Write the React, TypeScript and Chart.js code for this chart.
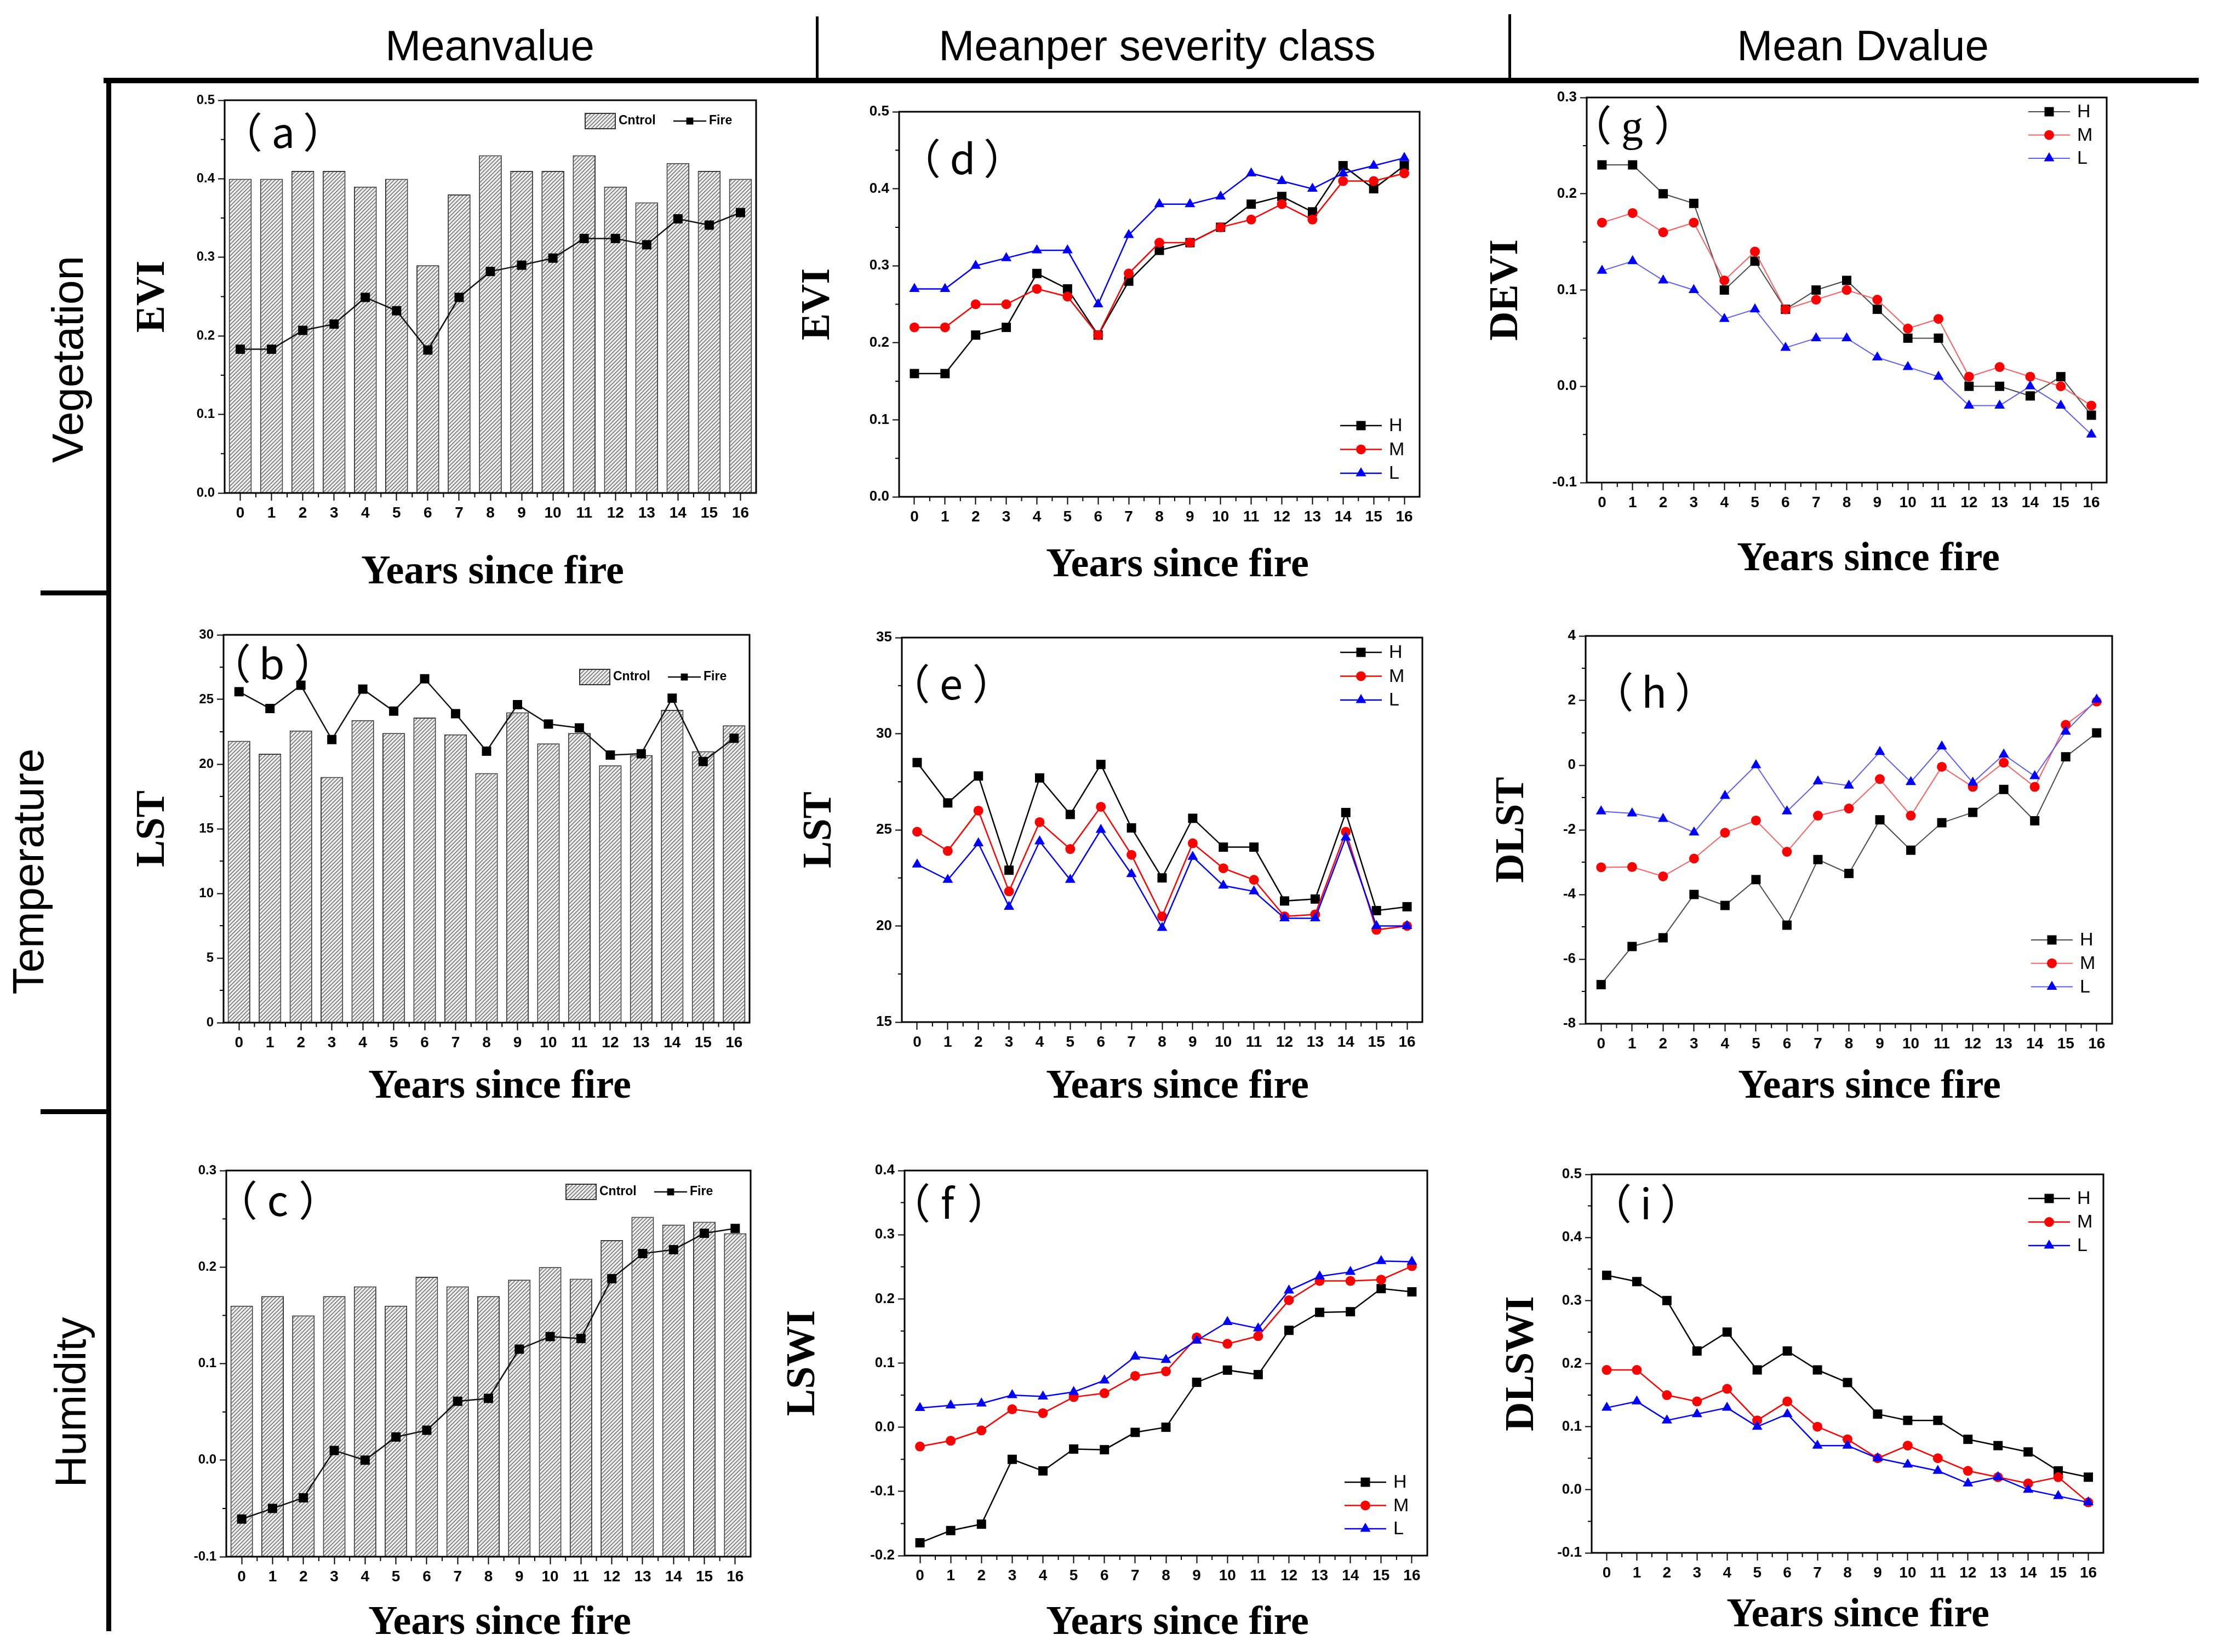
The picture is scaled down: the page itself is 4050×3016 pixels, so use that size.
import React, { useEffect, useRef } from "react";
import { Chart, registerables } from "chart.js";

Chart.register(...registerables);

// ---------------- data ----------------
const years = ["0", "1", "2", "3", "4", "5", "6", "7", "8", "9", "10", "11", "12", "13", "14", "15", "16"];

const eviControl = [0.40, 0.40, 0.41, 0.41, 0.39, 0.40, 0.29, 0.38, 0.43, 0.41, 0.41, 0.43, 0.39, 0.37, 0.42, 0.41, 0.40];
const eviFire = [0.183, 0.183, 0.207, 0.215, 0.249, 0.232, 0.182, 0.249, 0.282, 0.290, 0.299, 0.324, 0.324, 0.316, 0.349, 0.341, 0.357];
const lstControl = [21.8, 20.8, 22.6, 19.0, 23.4, 22.4, 23.6, 22.3, 19.3, 24.0, 21.6, 22.4, 19.9, 20.7, 24.2, 21.0, 23.0];
const lstFire = [25.6, 24.3, 26.1, 21.9, 25.8, 24.1, 26.6, 23.9, 21.0, 24.6, 23.1, 22.8, 20.7, 20.8, 25.1, 20.2, 22.0];
const lswiControl = [0.16, 0.17, 0.15, 0.17, 0.18, 0.16, 0.19, 0.18, 0.17, 0.187, 0.20, 0.188, 0.228, 0.252, 0.244, 0.247, 0.235];
const lswiFire = [-0.061, -0.050, -0.039, 0.010, 0.000, 0.024, 0.031, 0.061, 0.064, 0.115, 0.128, 0.126, 0.188, 0.214, 0.218, 0.235, 0.240];

const eviH = [0.16, 0.16, 0.21, 0.22, 0.29, 0.27, 0.21, 0.28, 0.32, 0.33, 0.35, 0.38, 0.39, 0.37, 0.43, 0.40, 0.43];
const eviM = [0.22, 0.22, 0.25, 0.25, 0.27, 0.26, 0.21, 0.29, 0.33, 0.33, 0.35, 0.36, 0.38, 0.36, 0.41, 0.41, 0.42];
const eviL = [0.27, 0.27, 0.30, 0.31, 0.32, 0.32, 0.25, 0.34, 0.38, 0.38, 0.39, 0.42, 0.41, 0.40, 0.42, 0.43, 0.44];

const lstH = [28.5, 26.4, 27.8, 22.9, 27.7, 25.8, 28.4, 25.1, 22.5, 25.6, 24.1, 24.1, 21.3, 21.4, 25.9, 20.8, 21.0];
const lstM = [24.9, 23.9, 26.0, 21.8, 25.4, 24.0, 26.2, 23.7, 20.5, 24.3, 23.0, 22.4, 20.5, 20.6, 24.9, 19.8, 20.0];
const lstL = [23.2, 22.4, 24.3, 21.0, 24.4, 22.4, 25.0, 22.7, 19.9, 23.6, 22.1, 21.8, 20.4, 20.4, 24.6, 20.0, 20.0];

const lswiH = [-0.180, -0.161, -0.151, -0.050, -0.068, -0.034, -0.035, -0.008, 0.000, 0.070, 0.089, 0.082, 0.151, 0.179, 0.180, 0.216, 0.211];
const lswiM = [-0.030, -0.021, -0.005, 0.028, 0.022, 0.047, 0.053, 0.080, 0.087, 0.140, 0.130, 0.142, 0.198, 0.228, 0.228, 0.230, 0.251];
const lswiL = [0.030, 0.034, 0.037, 0.050, 0.048, 0.055, 0.073, 0.110, 0.105, 0.135, 0.164, 0.154, 0.213, 0.235, 0.242, 0.259, 0.258];

const deviH = [0.23, 0.23, 0.20, 0.19, 0.10, 0.13, 0.08, 0.10, 0.11, 0.08, 0.05, 0.05, 0.00, 0.00, -0.01, 0.01, -0.03];
const deviM = [0.17, 0.18, 0.16, 0.17, 0.11, 0.14, 0.08, 0.09, 0.10, 0.09, 0.06, 0.07, 0.01, 0.02, 0.01, 0.00, -0.02];
const deviL = [0.12, 0.13, 0.11, 0.10, 0.07, 0.08, 0.04, 0.05, 0.05, 0.03, 0.02, 0.01, -0.02, -0.02, 0.00, -0.02, -0.05];

const dlstH = [-6.79, -5.61, -5.34, -4.00, -4.34, -3.54, -4.95, -2.92, -3.35, -1.69, -2.63, -1.78, -1.46, -0.75, -1.72, 0.26, 1.00];
const dlstM = [-3.16, -3.15, -3.44, -2.89, -2.09, -1.71, -2.68, -1.56, -1.34, -0.43, -1.56, -0.05, -0.67, 0.08, -0.67, 1.25, 1.97];
const dlstL = [-1.43, -1.49, -1.66, -2.08, -0.95, 0.00, -1.43, -0.50, -0.63, 0.41, -0.52, 0.58, -0.54, 0.33, -0.34, 1.04, 2.03];

const dlswiH = [0.34, 0.33, 0.30, 0.22, 0.25, 0.19, 0.22, 0.19, 0.17, 0.12, 0.11, 0.11, 0.08, 0.07, 0.06, 0.03, 0.02];
const dlswiM = [0.19, 0.19, 0.15, 0.14, 0.16, 0.11, 0.14, 0.10, 0.08, 0.05, 0.07, 0.05, 0.03, 0.02, 0.01, 0.02, -0.02];
const dlswiL = [0.13, 0.14, 0.11, 0.12, 0.13, 0.10, 0.12, 0.07, 0.07, 0.05, 0.04, 0.03, 0.01, 0.02, 0.00, -0.01, -0.02];

const columnHeaders = ["Meanvalue", "Meanper severity class", "Mean Dvalue"];
const rowHeaders = ["Vegetation", "Temperature", "Humidity"];
const xAxisTitle = "Years since fire";
const controlLabel = "Cntrol";
const fireLabel = "Fire";
const severityLabels = ["H", "M", "L"];

// ---------------- styles / layout ----------------
const SANS = '"Liberation Sans", Arial, sans-serif';
const SERIF = '"Liberation Serif", "Times New Roman", serif';
const CJK = '"Noto Sans CJK SC", "Noto Sans", sans-serif';
const TITLE_SIZE = 74;

type PanelDef = {
  kind: "bar" | "line";
  letter: string;
  letterSerif?: boolean;
  L: number; T: number; R: number; B: number;
  yTitle: string | null;
  yTitleX: number;
  xTitleX: number;
  xTitleY: number;
  yMin: number; yMax: number; yStep: number; dec: number;
  series: number[][];
  letterX: number; letterY: number;
  legendX: number; legendY: number; legendGap: number;
  light?: boolean;
  yTickSize: number;
};

const PANELS: PanelDef[] = [
  { kind: "bar", letter: "a", L: 410, T: 183, R: 1380, B: 900, yTitle: "EVI", yTitleX: 280, xTitleX: 899, xTitleY: 1046,
    yMin: 0, yMax: 0.5, yStep: 0.1, dec: 1, series: [eviControl, eviFire], letterX: 517, letterY: 270,
    legendX: 1068, legendY: 221, legendGap: 0, yTickSize: 24 },
  { kind: "bar", letter: "b", L: 408, T: 1159, R: 1368, B: 1867, yTitle: "LST", yTitleX: 280, xTitleX: 912, xTitleY: 1985,
    yMin: 0, yMax: 30, yStep: 5, dec: 0, series: [lstControl, lstFire], letterX: 496, letterY: 1240,
    legendX: 1058, legendY: 1236, legendGap: 0, yTickSize: 24 },
  { kind: "bar", letter: "c", L: 413, T: 2137, R: 1370, B: 2842, yTitle: null, yTitleX: 0, xTitleX: 912, xTitleY: 2964,
    yMin: -0.1, yMax: 0.3, yStep: 0.1, dec: 1, series: [lswiControl, lswiFire], letterX: 507, letterY: 2220,
    legendX: 1033, legendY: 2176, legendGap: 0, yTickSize: 24 },
  { kind: "line", letter: "d", L: 1641, T: 204, R: 2591, B: 907, yTitle: "EVI", yTitleX: 1494, xTitleX: 2149, xTitleY: 1033,
    yMin: 0, yMax: 0.5, yStep: 0.1, dec: 1, series: [eviH, eviM, eviL], letterX: 1757, letterY: 318,
    legendX: 2446, legendY: 777, legendGap: 43.5, yTickSize: 26 },
  { kind: "line", letter: "e", L: 1646, T: 1164, R: 2596, B: 1866, yTitle: "LST", yTitleX: 1497, xTitleX: 2149, xTitleY: 1985,
    yMin: 15, yMax: 35, yStep: 5, dec: 0, series: [lstH, lstM, lstL], letterX: 1736, letterY: 1277,
    legendX: 2446, legendY: 1191, legendGap: 43.5, yTickSize: 26 },
  { kind: "line", letter: "f", L: 1651, T: 2137, R: 2605, B: 2840, yTitle: "LSWI", yTitleX: 1467, xTitleX: 2149, xTitleY: 2964,
    yMin: -0.2, yMax: 0.4, yStep: 0.1, dec: 1, series: [lswiH, lswiM, lswiL], letterX: 1729, letterY: 2225,
    legendX: 2454, legendY: 2706, legendGap: 42.5, yTickSize: 26 },
  { kind: "line", letter: "g", letterSerif: true, L: 2896, T: 178, R: 3845, B: 881, yTitle: "DEVI", yTitleX: 2750, xTitleX: 3410, xTitleY: 1022,
    yMin: -0.1, yMax: 0.3, yStep: 0.1, dec: 1, series: [deviH, deviM, deviL], letterX: 2979, letterY: 257,
    legendX: 3702, legendY: 204, legendGap: 42.5, light: true, yTickSize: 26 },
  { kind: "line", letter: "h", L: 2894, T: 1161, R: 3855, B: 1869, yTitle: "DLST", yTitleX: 2761, xTitleX: 3412, xTitleY: 1985,
    yMin: -8, yMax: 4, yStep: 2, dec: 0, series: [dlstH, dlstM, dlstL], letterX: 3019, letterY: 1292,
    legendX: 3707, legendY: 1716, legendGap: 42.7, light: true, yTickSize: 26 },
  { kind: "line", letter: "i", L: 2905, T: 2144, R: 3839, B: 2835, yTitle: "DLSWI", yTitleX: 2779, xTitleX: 3391, xTitleY: 2950,
    yMin: -0.1, yMax: 0.5, yStep: 0.1, dec: 1, series: [dlswiH, dlswiM, dlswiL], letterX: 3004, letterY: 2226,
    legendX: 3702, legendY: 2188, legendGap: 43, yTickSize: 26 },
];

function geom(p: PanelDef) {
  const cl = p.yTitle ? Math.round(p.yTitleX - TITLE_SIZE / 2 - 6) : p.L - 110;
  const ct = p.T - 30;
  const cr = p.R + 30;
  const cb = Math.round(p.xTitleY + TITLE_SIZE / 2 + 6);
  return { cl, ct, w: cr - cl, h: cb - ct, yAxisW: p.L - cl, xAxisH: cb - p.B };
}

function makeHatch(ctx: CanvasRenderingContext2D): CanvasPattern {
  const c = document.createElement("canvas");
  c.width = 7;
  c.height = 7;
  const g = c.getContext("2d")!;
  g.fillStyle = "#ededed";
  g.fillRect(0, 0, 7, 7);
  g.strokeStyle = "#666";
  g.lineWidth = 1.4;
  g.beginPath();
  g.moveTo(-1, 8); g.lineTo(8, -1);
  g.moveTo(-1, 1); g.lineTo(1, -1);
  g.moveTo(6, 8); g.lineTo(8, 6);
  g.stroke();
  return ctx.createPattern(c, "repeat")!;
}

function drawMarker(c: CanvasRenderingContext2D, style: string, x: number, y: number, r: number, color: string) {
  c.fillStyle = color;
  c.beginPath();
  if (style === "rect") {
    const s = Math.SQRT1_2 * r;
    c.rect(x - s, y - s, 2 * s, 2 * s);
  } else if (style === "circle") {
    c.arc(x, y, r, 0, Math.PI * 2);
  } else {
    c.moveTo(x, y - r);
    c.lineTo(x + Math.sin((2 * Math.PI) / 3) * r, y + r / 2);
    c.lineTo(x - Math.sin((2 * Math.PI) / 3) * r, y + r / 2);
    c.closePath();
  }
  c.fill();
}

const SEV_STYLE = [
  { point: "rect", color: "#000000", radius: 12 },
  { point: "circle", color: "#ff0000", radius: 9 },
  { point: "triangle", color: "#0000ff", radius: 11 },
];
const LIGHT_LINES = ["#4a4a4a", "#ff5c5c", "#5c5cff"];

function PanelChart({ p }: { p: PanelDef }) {
  const ref = useRef<HTMLCanvasElement | null>(null);
  const g = geom(p);

  useEffect(() => {
    const canvas = ref.current!;
    const ctx = canvas.getContext("2d")!;
    const hatch = makeHatch(ctx);

    let datasets: any[];
    if (p.kind === "bar") {
      datasets = [
        {
          type: "bar", label: controlLabel, data: p.series[0], backgroundColor: hatch, base: p.yMin,
          borderColor: "#3c3c3c", borderWidth: 2, barPercentage: 0.73, categoryPercentage: 1, order: 1,
        },
        {
          type: "line", label: fireLabel, data: p.series[1], borderColor: "#111", borderWidth: 2.5,
          pointStyle: "rect", pointRadius: 12, pointBackgroundColor: "#000", pointBorderColor: "#000",
          pointBorderWidth: 0, order: 0,
        },
      ];
    } else {
      datasets = p.series.map((s, i) => ({
        type: "line", label: severityLabels[i], data: s,
        borderColor: p.light ? LIGHT_LINES[i] : SEV_STYLE[i].color,
        borderWidth: p.light ? 2 : 2.5,
        pointStyle: SEV_STYLE[i].point, pointRadius: SEV_STYLE[i].radius,
        pointBackgroundColor: SEV_STYLE[i].color, pointBorderColor: SEV_STYLE[i].color, pointBorderWidth: 0,
        order: 3 - i,
      }));
    }

    const deco = {
      id: "deco",
      afterDraw(chart: any) {
        const c: CanvasRenderingContext2D = chart.ctx;
        const a = chart.chartArea;
        const xs = chart.scales.x;
        const ys = chart.scales.y;
        c.save();
        // minor ticks
        c.strokeStyle = "#000";
        c.lineWidth = 2;
        c.beginPath();
        for (let i = 0; i < years.length - 1; i++) {
          const px = (xs.getPixelForTick(i) + xs.getPixelForTick(i + 1)) / 2;
          c.moveTo(px, a.bottom);
          c.lineTo(px, a.bottom + 8);
        }
        const yt = ys.ticks;
        for (let i = 0; i < yt.length - 1; i++) {
          const py = ys.getPixelForValue((yt[i].value + yt[i + 1].value) / 2);
          c.moveTo(a.left, py);
          c.lineTo(a.left - 7, py);
        }
        c.stroke();
        // frame
        c.lineWidth = 3;
        c.strokeRect(a.left, a.top, a.right - a.left, a.bottom - a.top);

        // x axis title
        c.fillStyle = "#000";
        c.font = `bold ${TITLE_SIZE}px ${SERIF}`;
        c.textAlign = "center";
        c.textBaseline = "middle";
        c.fillText(xAxisTitle, p.xTitleX - g.cl, p.xTitleY - g.ct);

        // panel letter with full-width parentheses
        const lx = p.letterX - g.cl;
        const ly = p.letterY - g.ct;
        c.textBaseline = "alphabetic";
        c.font = p.letterSerif ? `80px ${SERIF}` : `76px ${CJK}`;
        c.textAlign = "center";
        const lm = c.measureText(p.letter);
        const inkL = lx - lm.actualBoundingBoxLeft;
        const inkR = lx + lm.actualBoundingBoxRight;
        c.fillText(p.letter, lx, ly);
        c.font = `76px ${CJK}`;
        c.textAlign = "left";
        const paren = (ch: string, cx: number) => {
          const m = c.measureText(ch);
          const mid = (-m.actualBoundingBoxLeft + m.actualBoundingBoxRight) / 2;
          c.fillText(ch, cx - mid, ly);
        };
        paren("（", inkL - 34);
        paren("）", inkR + 34);

        // legend
        if (p.kind === "bar") {
          const x0 = p.legendX - g.cl;
          const yc = p.legendY - g.ct;
          c.fillStyle = hatch;
          c.fillRect(x0, yc - 14, 55, 28);
          c.strokeStyle = "#333";
          c.lineWidth = 2;
          c.strokeRect(x0, yc - 14, 55, 28);
          c.fillStyle = "#000";
          c.font = `bold 23px ${SANS}`;
          c.textAlign = "left";
          c.textBaseline = "middle";
          c.fillText(controlLabel, x0 + 61, yc);
          c.strokeStyle = "#111";
          c.lineWidth = 2.5;
          c.beginPath();
          c.moveTo(x0 + 161, yc);
          c.lineTo(x0 + 221, yc);
          c.stroke();
          drawMarker(c, "rect", x0 + 191, yc, 9, "#000");
          c.fillStyle = "#000";
          c.fillText(fireLabel, x0 + 226, yc);
        } else {
          for (let i = 0; i < 3; i++) {
            const x0 = p.legendX - g.cl;
            const yc = p.legendY + i * p.legendGap - g.ct;
            c.strokeStyle = p.light ? LIGHT_LINES[i] : SEV_STYLE[i].color;
            c.lineWidth = p.light ? 2 : 2.5;
            c.beginPath();
            c.moveTo(x0, yc);
            c.lineTo(x0 + 76, yc);
            c.stroke();
            drawMarker(c, SEV_STYLE[i].point, x0 + 38, yc, SEV_STYLE[i].radius, SEV_STYLE[i].color);
            c.fillStyle = "#000";
            c.font = `34px ${SANS}`;
            c.textAlign = "left";
            c.textBaseline = "middle";
            c.fillText(severityLabels[i], x0 + 89, yc + 1);
          }
        }
        c.restore();
      },
    };

    const fmt = (v: any) => {
      const n = Number(v);
      return (Math.abs(n) < 1e-9 ? 0 : n).toFixed(p.dec);
    };

    const chart = new Chart(ctx, {
      type: p.kind === "bar" ? "bar" : "line",
      data: { labels: years, datasets },
      options: {
        responsive: false,
        animation: false,
        devicePixelRatio: 1,
        layout: { padding: { top: 30, right: 30, left: 0, bottom: 0 } },
        plugins: { legend: { display: false }, tooltip: { enabled: false }, title: { display: false } },
        scales: {
          x: {
            type: "category",
            offset: true,
            grid: { offset: false, display: true, drawOnChartArea: false, drawTicks: true, tickLength: 14, tickWidth: 2, tickColor: "#000" },
            border: { display: false },
            ticks: { color: "#000", font: { family: SANS, size: 28, weight: "bold" }, padding: 6, maxRotation: 0, autoSkip: false },
            title: { display: false },
            afterFit: (s: any) => { s.height = g.xAxisH; },
          },
          y: {
            type: "linear",
            min: p.yMin,
            max: p.yMax,
            ticks: {
              stepSize: p.yStep,
              color: "#000",
              font: { family: SANS, size: p.yTickSize, weight: "bold" },
              padding: 6,
              callback: fmt,
            },
            grid: { display: true, drawOnChartArea: false, drawTicks: true, tickLength: 12, tickWidth: 2, tickColor: "#000" },
            border: { display: false },
            title: {
              display: !!p.yTitle, text: p.yTitle || "", color: "#000",
              font: { family: SERIF, size: TITLE_SIZE, weight: "bold", lineHeight: 1 },
              padding: { top: 6, bottom: 0 },
            },
            afterFit: (s: any) => { s.width = g.yAxisW; },
          },
        },
      } as any,
      plugins: [deco],
    } as any);
    return () => chart.destroy();
  }, []);

  return (
    <canvas
      ref={ref}
      width={g.w}
      height={g.h}
      style={{ position: "absolute", left: g.cl, top: g.ct, width: g.w, height: g.h }}
    />
  );
}

const headerPos = [894, 2112, 3400];
const rowPos = [
  { x: 124, y: 656 },
  { x: 52, y: 1591 },
  { x: 129, y: 2560 },
];

export default function App() {
  const line = (left: number, top: number, width: number, height: number, key: string) => (
    <div key={key} style={{ position: "absolute", left, top, width, height, background: "#000" }} />
  );
  return (
    <div style={{ position: "absolute", left: 0, top: 0, width: 4050, height: 3016, background: "#fff", overflow: "hidden" }}>
      {columnHeaders.map((t, i) => (
        <div
          key={t}
          style={{
            position: "absolute", left: headerPos[i] - 600, top: 44, width: 1200, height: 78,
            textAlign: "center", fontFamily: SANS, fontSize: 78, lineHeight: "78px", color: "#000", whiteSpace: "nowrap",
          }}
        >
          {t}
        </div>
      ))}
      {line(189, 142, 3824, 10, "hline")}
      {line(1489, 30, 5, 112, "sep1")}
      {line(2753, 26, 5, 116, "sep2")}
      {line(194, 152, 9, 2826, "vline")}
      {line(74, 1078, 120, 9, "rowsep1")}
      {line(74, 2025, 120, 9, "rowsep2")}
      {rowHeaders.map((t, i) => (
        <div
          key={t}
          style={{
            position: "absolute", left: rowPos[i].x, top: rowPos[i].y, transform: "translate(-50%, -50%) rotate(-90deg)",
            fontFamily: SANS, fontSize: 80, lineHeight: "80px", color: "#000", whiteSpace: "nowrap",
          }}
        >
          {t}
        </div>
      ))}
      {PANELS.map((p) => (
        <PanelChart key={p.letter} p={p} />
      ))}
    </div>
  );
}
